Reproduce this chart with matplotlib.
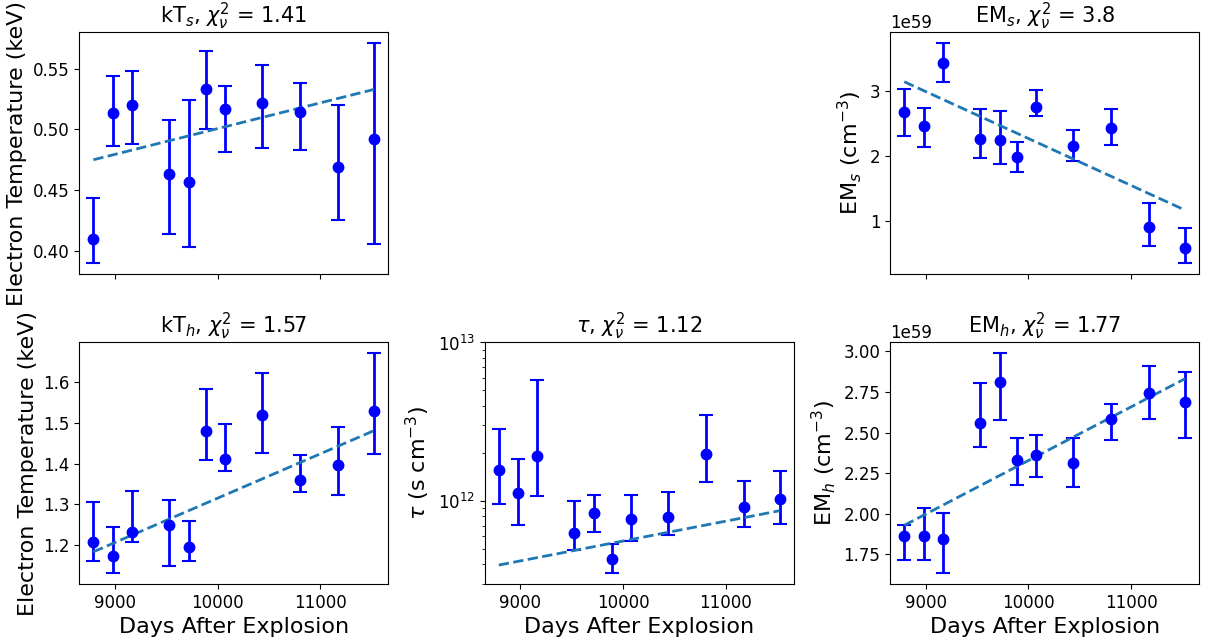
import numpy as np
import matplotlib
matplotlib.use("Agg")
import matplotlib.pyplot as plt

# observation epochs (days after explosion)
days = [8790, 8980, 9165, 9525, 9720, 9890, 10075, 10435, 10805, 11175, 11525]

# soft component temperature (keV)
kTs = [0.410, 0.5135, 0.520, 0.463, 0.457, 0.533, 0.5165, 0.522, 0.5145, 0.469, 0.4925]
kTs_hi = [0.4435, 0.544, 0.548, 0.508, 0.524, 0.5645, 0.5355, 0.553, 0.538, 0.520, 0.571]
kTs_lo = [0.390, 0.486, 0.488, 0.414, 0.403, 0.500, 0.481, 0.4845, 0.483, 0.4255, 0.4055]
kTs_fit = [0.475, 0.533]

# hard component temperature (keV)
kTh = [1.209, 1.174, 1.232, 1.249, 1.196, 1.479, 1.412, 1.519, 1.361, 1.397, 1.530]
kTh_hi = [1.305, 1.246, 1.333, 1.311, 1.259, 1.584, 1.498, 1.621, 1.420, 1.490, 1.670]
kTh_lo = [1.162, 1.132, 1.207, 1.150, 1.162, 1.410, 1.383, 1.426, 1.330, 1.322, 1.424]
kTh_fit = [1.184, 1.481]

# ionisation timescale (s cm^-3)
tau = [1.56e12, 1.13e12, 1.93e12, 0.625e12, 0.84e12, 0.429e12, 0.774e12, 0.789e12, 1.97e12, 0.917e12, 1.03e12]
tau_hi = [2.84e12, 1.85e12, 5.79e12, 1.0e12, 1.085e12, 0.536e12, 1.10e12, 1.145e12, 3.48e12, 1.33e12, 1.55e12]
tau_lo = [0.953e12, 0.703e12, 1.08e12, 0.495e12, 0.641e12, 0.351e12, 0.562e12, 0.608e12, 1.31e12, 0.682e12, 0.716e12]
tau_fit = [0.395e12, 0.869e12]

# emission measures (units of 1e59 cm^-3)
EMs = [2.686, 2.459, 3.433, 2.273, 2.258, 1.995, 2.763, 2.155, 2.443, 0.912, 0.593]
EMs_hi = [3.041, 2.742, 3.742, 2.732, 2.696, 2.216, 3.026, 2.412, 2.732, 1.284, 0.892]
EMs_lo = [2.309, 2.144, 3.149, 1.974, 1.887, 1.758, 2.624, 1.933, 2.180, 0.619, 0.356]
EMs_fit = [3.149, 1.170]

EMh = [1.863, 1.863, 1.844, 2.562, 2.809, 2.330, 2.363, 2.312, 2.585, 2.744, 2.686]
EMh_hi = [1.933, 2.035, 2.002, 2.805, 2.988, 2.470, 2.486, 2.470, 2.674, 2.908, 2.871]
EMh_lo = [1.717, 1.717, 1.635, 2.413, 2.575, 2.178, 2.229, 2.167, 2.457, 2.585, 2.466]
EMh_fit = [1.929, 2.832]

plt.rcParams['xtick.labelsize'] = 12
plt.rcParams['ytick.labelsize'] = 12

fig, axs = plt.subplots(2, 3, sharex='col', figsize=(12.06, 6.41), dpi=100)
fig.subplots_adjust(left=0.0658, right=0.9942, top=0.9496, bottom=0.0889,
                    wspace=0.313, hspace=0.284)
axs[0, 1].axis('off')


def panel(ax, y, hi, lo, fit, scale=1.0):
    y = np.array(y) * scale
    err = [y - np.array(lo) * scale, np.array(hi) * scale - y]
    ax.errorbar(days, y, yerr=err, fmt='o', color='blue', markersize=7.5,
                elinewidth=2, capsize=5, capthick=1.5)
    ax.plot([days[0], days[-1]], np.array(fit) * scale, '--', color='C0', lw=2)


panel(axs[0, 0], kTs, kTs_hi, kTs_lo, kTs_fit)
axs[0, 0].set_title(r"kT$_s$, $\chi_\nu^2$ = 1.41", fontsize=15)
axs[0, 0].set_ylabel("Electron Temperature (keV)", fontsize=16)

panel(axs[0, 2], EMs, EMs_hi, EMs_lo, EMs_fit, 1e59)
axs[0, 2].set_title(r"EM$_s$, $\chi_\nu^2$ = 3.8", fontsize=15)
axs[0, 2].set_ylabel(r"EM$_s$ (cm$^{-3}$)", fontsize=16)

panel(axs[1, 0], kTh, kTh_hi, kTh_lo, kTh_fit)
axs[1, 0].set_title(r"kT$_h$, $\chi_\nu^2$ = 1.57", fontsize=15)
axs[1, 0].set_ylabel("Electron Temperature (keV)", fontsize=16)

panel(axs[1, 1], tau, tau_hi, tau_lo, tau_fit)
axs[1, 1].set_yscale('log')
axs[1, 1].set_ylim(3e11, 1e13)
axs[1, 1].set_title(r"$\tau$, $\chi_\nu^2$ = 1.12", fontsize=15)
axs[1, 1].set_ylabel(r"$\tau$ (s cm$^{-3}$)", fontsize=16)

panel(axs[1, 2], EMh, EMh_hi, EMh_lo, EMh_fit, 1e59)
axs[1, 2].set_title(r"EM$_h$, $\chi_\nu^2$ = 1.77", fontsize=15)
axs[1, 2].set_ylabel(r"EM$_h$ (cm$^{-3}$)", fontsize=16)

for ax in axs[1]:
    ax.set_xlabel("Days After Explosion", fontsize=16)
    ax.set_xticks([9000, 10000, 11000])
for ax in axs[0]:
    ax.yaxis.get_offset_text().set_fontsize(12)

fig.savefig("out.png", dpi=100)
